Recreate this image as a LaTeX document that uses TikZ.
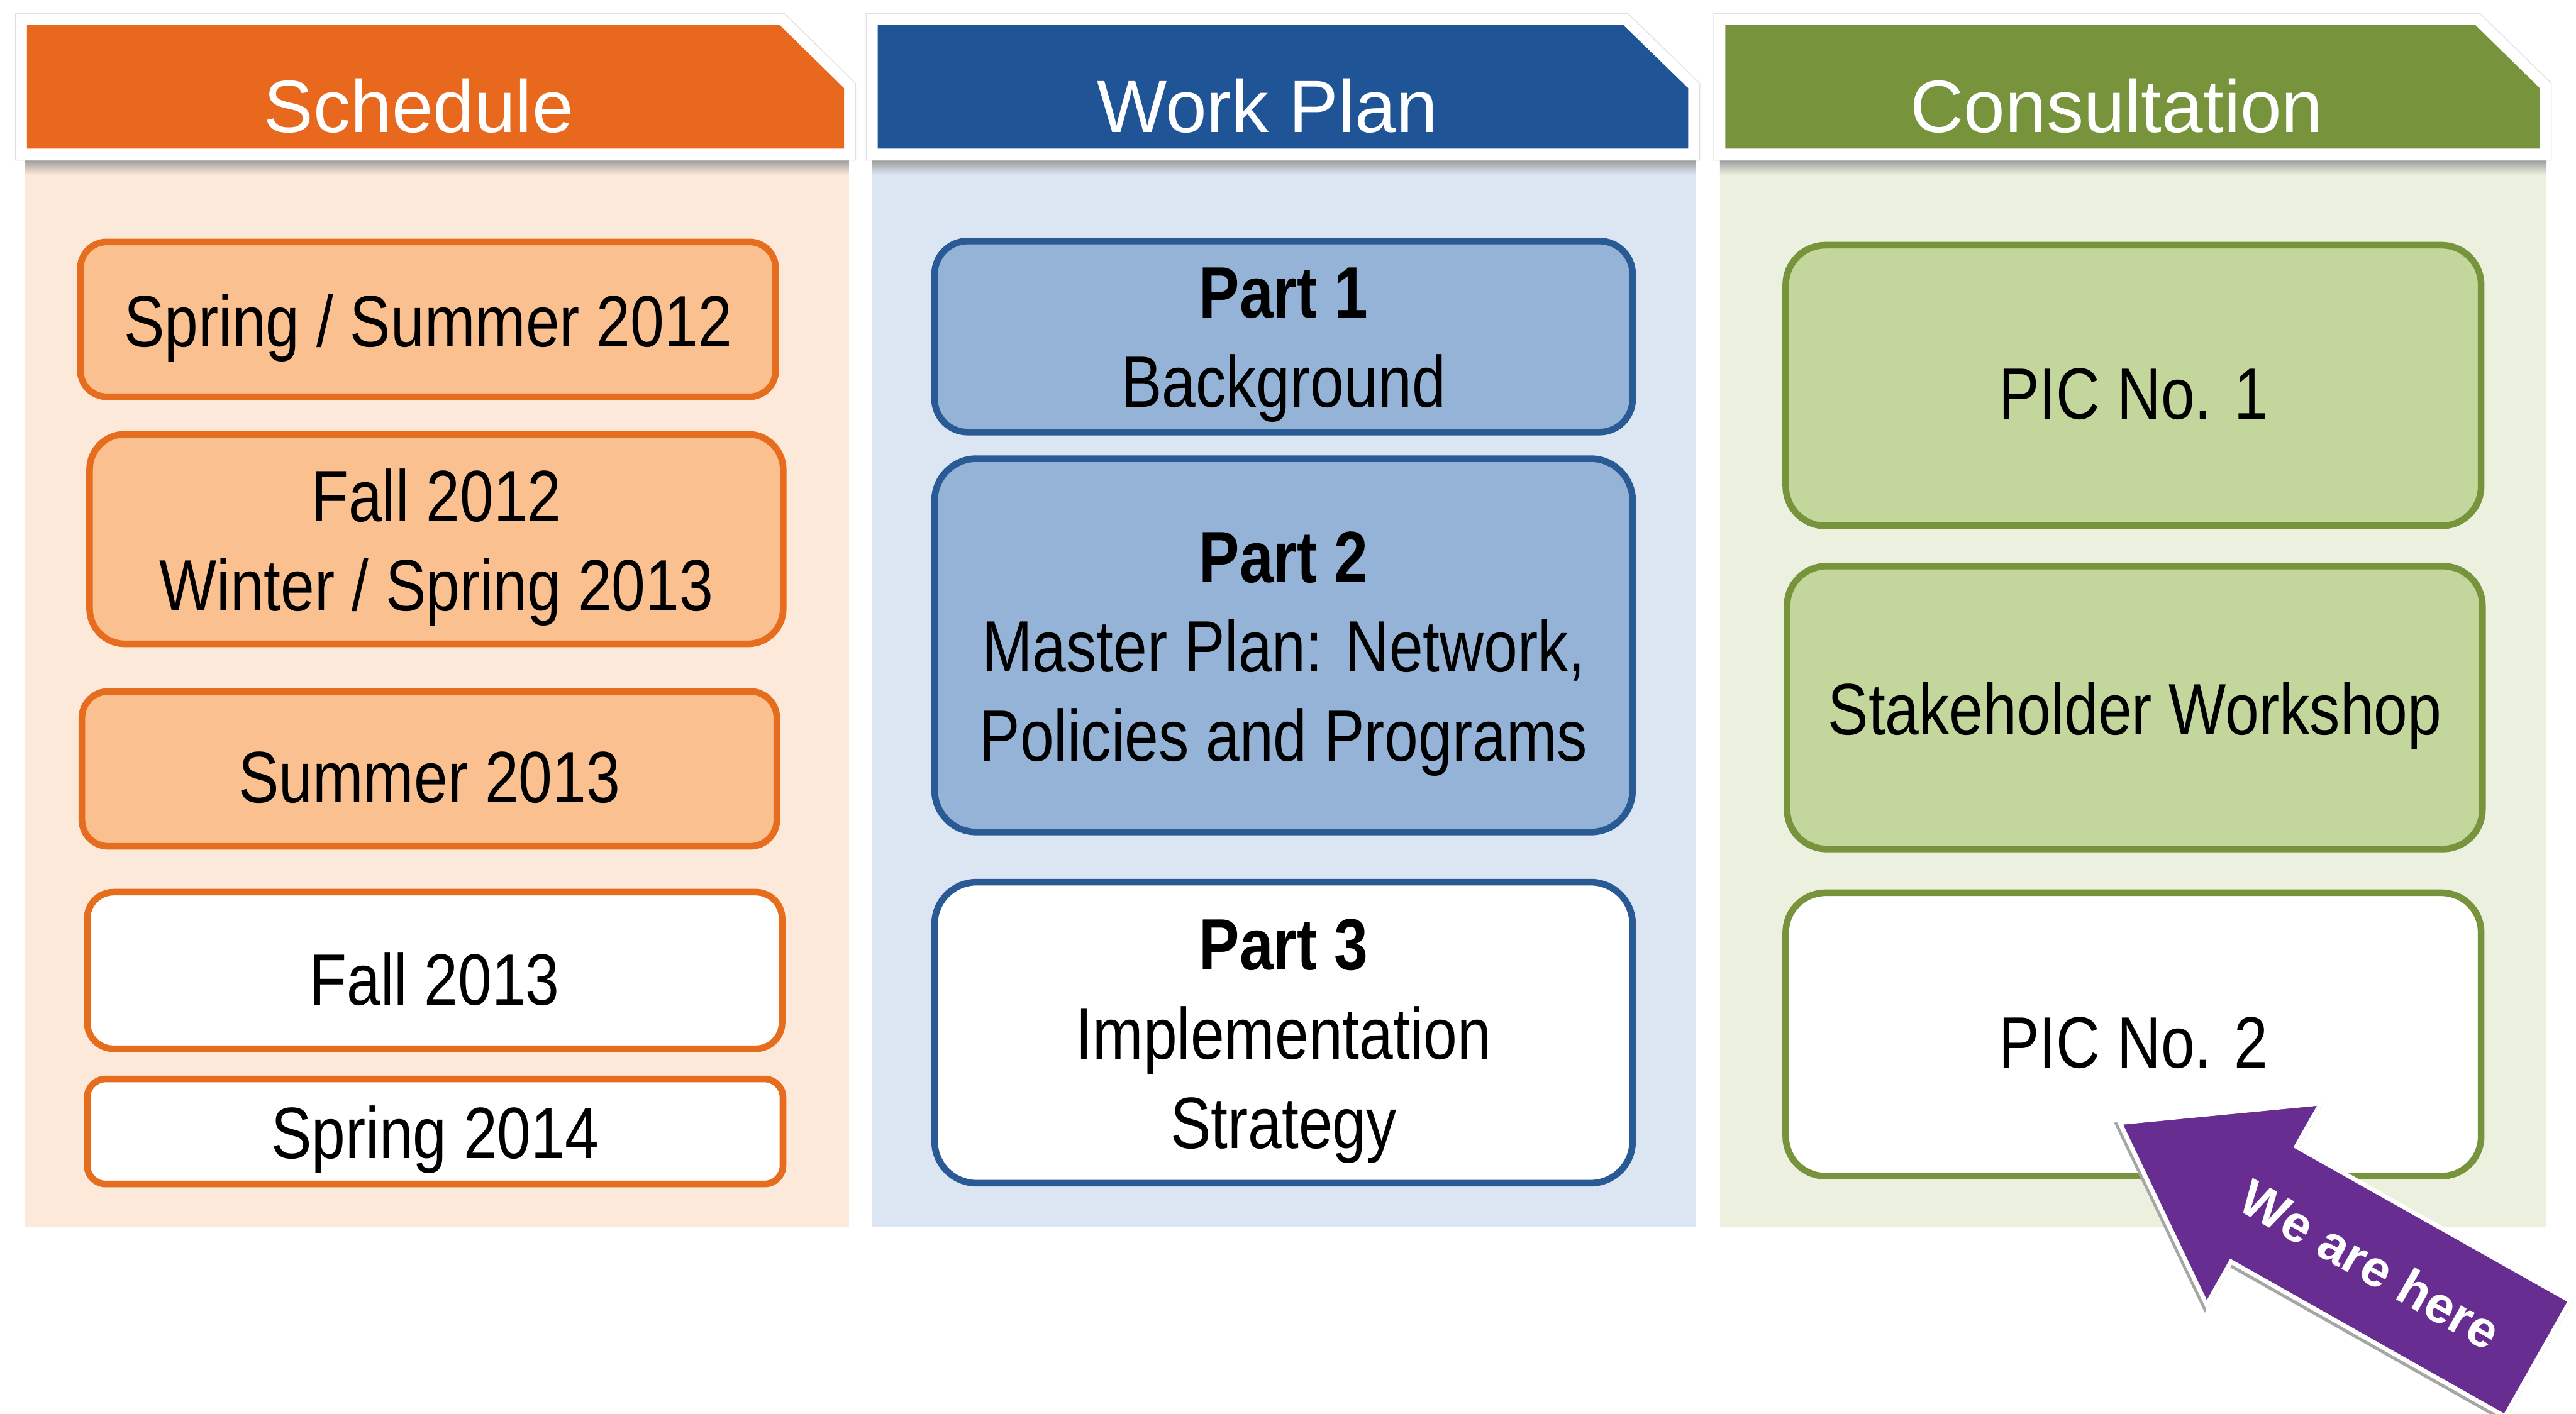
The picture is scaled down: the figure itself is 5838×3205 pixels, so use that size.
\documentclass[tikz,border=0pt]{standalone}
\usepackage{fontspec}
\setmainfont{Liberation Sans}
\newfontfamily\bodyfont[FakeStretch=0.835]{Liberation Sans}

\definecolor{schedHead}{HTML}{E8691E}
\definecolor{schedPanel}{HTML}{FDE9D9}
\definecolor{schedFill}{HTML}{FAC090}
\definecolor{schedLine}{HTML}{E66C1E}
\definecolor{planHead}{HTML}{1F5597}
\definecolor{planPanel}{HTML}{DCE6F2}
\definecolor{planFill}{HTML}{95B3D7}
\definecolor{planLine}{HTML}{2A5A96}
\definecolor{consHead}{HTML}{77933C}
\definecolor{consPanel}{HTML}{EBF1DE}
\definecolor{consFill}{HTML}{C3D69B}
\definecolor{consLine}{HTML}{77933C}
\definecolor{herePurple}{HTML}{672D91}

\begin{document}
\begin{tikzpicture}[x=0.01cm, y=-0.01cm,
  tabshape/.style={fill=#1, line join=miter,
    preaction={draw=black!12, line width=0.54cm},
    preaction={draw=white, line width=0.5cm}},
  headtext/.style={anchor=base, inner sep=0pt, text=white,
    font=\fontsize{47.8pt}{57pt}\selectfont},
  card/.style={draw, line width=0.15cm, inner sep=0pt},
  cardtext/.style={align=center, inner sep=0pt, text=black, yshift=-0.19cm,
    font=\bodyfont\fontsize{46.9pt}{57.5pt}\selectfont},
  schedcard/.style={card, draw=schedLine, fill=schedFill},
  schedopen/.style={card, draw=schedLine, fill=white},
  plancard/.style={card, draw=planLine, fill=planFill},
  planopen/.style={card, draw=planLine, fill=white},
  conscard/.style={card, draw=consLine, fill=consFill},
  consopen/.style={card, draw=consLine, fill=white},
  size/.style n args={3}{minimum width=#1, minimum height=#2, rounded corners=#3}
]
\useasboundingbox (0,0) rectangle (5838,3205);
\fill[white] (0,0) rectangle (5838,3205);

% column panels
\fill[schedPanel] (56,362) rectangle (1924,2781);
\fill[planPanel] (1976,362) rectangle (3842,2781);
\fill[consPanel] (3898,362) rectangle (5771,2781);

% soft shadow under the header tabs
\shade[top color=black!40, bottom color=schedPanel] (56,362) rectangle (1924,396);
\shade[top color=black!40, bottom color=planPanel] (1976,362) rectangle (3842,396);
\shade[top color=black!40, bottom color=consPanel] (3898,362) rectangle (5771,396);

% header tabs with a cut corner
\path[tabshape=schedHead] (61,57) -- (1767,57) -- (1913,200) -- (1913,337) -- (61,337) -- cycle;
\path[tabshape=planHead] (1989,57) -- (3679,57) -- (3826,200) -- (3826,337) -- (1989,337) -- cycle;
\path[tabshape=consHead] (3910,57) -- (5610,57) -- (5756,200) -- (5756,337) -- (3910,337) -- cycle;

\node[headtext] (hsched) at (949,300) {Schedule};
\node[headtext] (hplan) at (2872,300) {Work Plan};
\node[headtext] (hcons) at (4797,300) {Consultation};

% schedule column
\node[schedcard, size={15.75cm}{3.51cm}{0.6cm}] (s1) at (970,724) {};
\node[schedcard, size={15.71cm}{4.75cm}{0.8cm}] (s2) at (989,1222) {};
\node[schedcard, size={15.74cm}{3.51cm}{0.6cm}] (s3) at (973,1743) {};
\node[schedopen, size={15.74cm}{3.55cm}{0.6cm}] (s4) at (985,2200) {};
\node[schedopen, size={15.76cm}{2.38cm}{0.42cm}] (s5) at (986,2565) {};
\node[cardtext] (s1t) at (s1) {Spring / Summer 2012};
\node[cardtext] (s2t) at (s2) {Fall 2012\\Winter / Spring 2013};
\node[cardtext] (s3t) at (s3) {Summer 2013};
\node[cardtext] (s4t) at (s4) {Fall 2013};
\node[cardtext] (s5t) at (s5) {Spring 2014};

% work plan column
\node[plancard, size={15.81cm}{4.33cm}{0.75cm}] (w1) at (2909,763) {};
\node[plancard, size={15.81cm}{8.46cm}{0.95cm}] (w2) at (2909,1463) {};
\node[planopen, size={15.81cm}{6.82cm}{0.95cm}] (w3) at (2909,2341) {};
\node[cardtext] (w1t) at (w1) {\textbf{Part 1}\\Background};
\node[cardtext] (w2t) at (w2) {\textbf{Part 2}\\Master Plan: Network,\\Policies and Programs};
\node[cardtext] (w3t) at (w3) {\textbf{Part 3}\\Implementation\\Strategy};

% consultation column
\node[conscard, size={15.75cm}{6.36cm}{0.9cm}] (c1) at (4835,874) {};
\node[conscard, size={15.75cm}{6.41cm}{0.9cm}] (c2) at (4838,1604) {};
\node[consopen, size={15.75cm}{6.42cm}{0.9cm}] (c3) at (4835,2345) {};
\node[cardtext] (c1t) at (c1) {PIC No. 1};
\node[cardtext] (c2t) at (c2) {Stakeholder Workshop};
\node[cardtext] (c3t) at (c3) {PIC No. 2};

% "we are here" block arrow
\draw[black!35, line width=0.12cm, line join=miter, xshift=-0.04cm, yshift=-0.05cm]
  (4804,2545) -- (5260,2501) -- (5204,2599) -- (5825,2949) -- (5677,3211)
  -- (5056,2860) -- (5001,2958) -- cycle;
\path[fill=herePurple, draw=white, line width=0.1cm, line join=miter]
  (4804,2545) -- (5260,2501) -- (5204,2599) -- (5825,2949) -- (5677,3211)
  -- (5056,2860) -- (5001,2958) -- cycle;
\node[rotate=-29.5, inner sep=0pt, text=white,
  font=\bfseries\fontsize{33pt}{39pt}\selectfont] (here) at (5372,2866) {We are here};
\end{tikzpicture}
\end{document}
